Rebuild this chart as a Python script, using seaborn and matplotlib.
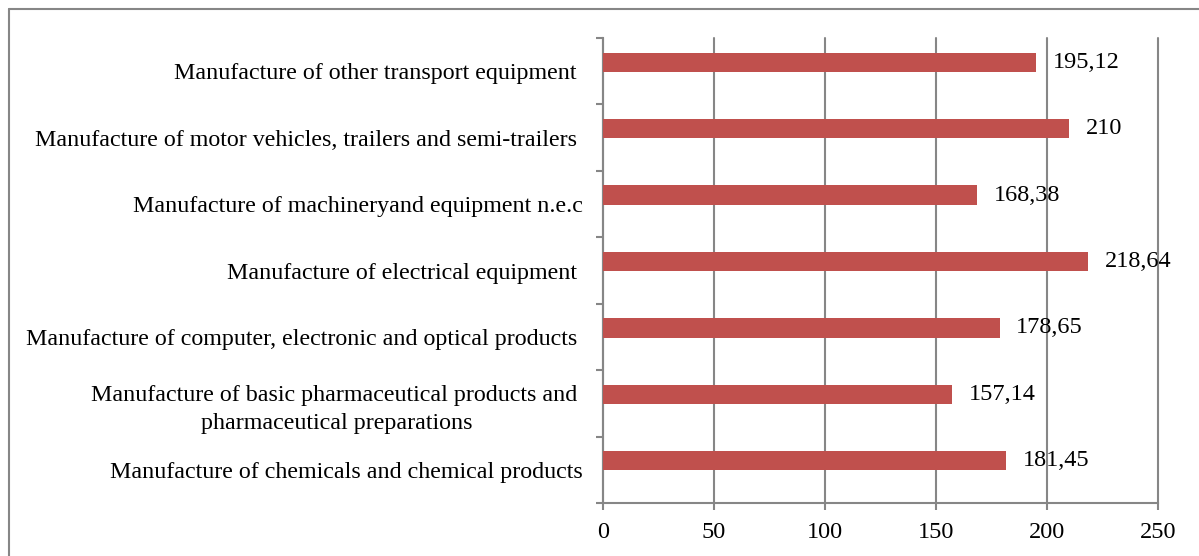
import matplotlib
matplotlib.use('Agg')
import matplotlib.pyplot as plt
import seaborn as sns
import numpy as np
from matplotlib.ticker import FixedLocator
from matplotlib.lines import Line2D

# data (top to bottom as in the chart)
categories = ['Manufacture of other transport equipment ',
              'Manufacture of motor vehicles, trailers and semi-trailers ',
              'Manufacture of machineryand equipment n.e.c',
              'Manufacture of electrical equipment ',
              'Manufacture of computer, electronic and optical products ',
              'Manufacture of basic pharmaceutical products and \npharmaceutical preparations',
              'Manufacture of chemicals and chemical products']
values = [195.12, 210, 168.38, 218.64, 178.65, 157.14, 181.45]
value_labels = ['195,12', '210', '168,38', '218,64', '178,65', '157,14', '181,45']

sns.set_style('white')
plt.rcParams['font.family'] = ['Liberation Serif', 'DejaVu Serif']
plt.rcParams['text.color'] = 'black'
plt.rcParams['xtick.color'] = 'black'
plt.rcParams['ytick.color'] = 'black'

grid_col = '#868686'
fs = 17.3
fig = plt.figure(figsize=(11.99, 5.56), dpi=100)
ax = fig.add_axes([603/1199, 1-503/556, 555/1199, 465/556])

sns.barplot(x=values, y=categories, orient='h', color='#C0504D', width=0.29,
            saturation=1, ax=ax, zorder=3)

# bars sit a bit above the category centre
for p in ax.patches:
    p.set_y(p.get_y() - 0.135)
    p.set_edgecolor('none')

ax.bar_label(ax.containers[0], labels=value_labels, padding=12, fontsize=17.5, color='black')

ax.set_xlim(0, 250)
ax.set_ylim(len(categories) - 0.5, -0.5)
ax.set_xticks([0, 50, 100, 150, 200, 250])
ax.xaxis.grid(True, color=grid_col, linewidth=1.5, zorder=0)
ax.yaxis.grid(False)
for g in ax.get_xgridlines():
    g.set_clip_on(False)
ax.set_xlabel('')
ax.set_ylabel('')

for s in ['top', 'right']:
    ax.spines[s].set_visible(False)
for s in ['left', 'bottom']:
    ax.spines[s].set_color(grid_col)
    ax.spines[s].set_linewidth(1.5)

ax.yaxis.set_minor_locator(FixedLocator(np.arange(-0.5, len(categories), 1.0)))
ax.tick_params(axis='y', which='major', length=0, pad=14.5, labelsize=fs)
ax.tick_params(axis='y', which='minor', length=5, width=1.5, color=grid_col, left=True)
ax.tick_params(axis='x', which='major', length=5, width=1.5, color=grid_col,
               bottom=True, pad=9, labelsize=17.5)
for t in ax.get_yticklabels():
    t.set_multialignment('center')
    t.set_linespacing(1.42)

# outer chart border (left and top visible)
fig.add_artist(Line2D([9/1199, 1], [1-9/556, 1-9/556], color=grid_col, lw=1.5))
fig.add_artist(Line2D([9/1199, 9/1199], [0, 1-9/556], color=grid_col, lw=1.5))

fig.savefig('out.png', dpi=100)
